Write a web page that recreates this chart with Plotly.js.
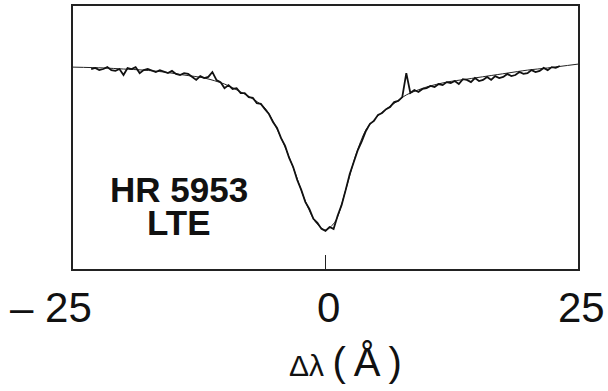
<!DOCTYPE html>
<html>
<head>
<meta charset="utf-8">
<script src="https://cdn.plot.ly/plotly-3.0.1.min.js"></script>
<style>html,body{margin:0;padding:0;background:#fff;}#chart{width:608px;height:391px;}</style>
</head>
<body>
<div id="chart"></div>
<script>
// Observed spectrum (relative flux vs wavelength offset in Angstrom)
const obsX = [-23.2,-22.8,-22.4,-22.0,-21.6,-21.2,-20.8,-20.4,-20.0,-19.6,-19.2,-18.8,-18.4,-18.0,-17.6,-17.2,-16.8,-16.4,-16.0,-15.6,-15.2,-14.8,-14.4,-14.0,-13.6,-13.2,-12.8,-12.4,-12.0,-11.6,-11.2,-10.8,-10.4,-10.0,-9.6,-9.2,-8.8,-8.4,-8.0,-7.6,-7.2,-6.8,-6.4,-6.0,-5.6,-5.2,-4.8,-4.4,-4.0,-3.6,-3.2,-2.8,-2.4,-2.0,-1.6,-1.2,-0.8,-0.4,0.0,0.4,0.8,1.2,1.6,2.0,2.4,2.8,3.2,3.6,4.0,4.4,4.8,5.2,5.6,6.0,6.4,6.8,7.2,7.6,8.0,8.4,8.8,9.2,9.6,10.0,10.4,10.8,11.2,11.6,12.0,12.4,12.8,13.2,13.6,14.0,14.4,14.8,15.2,15.6,16.0,16.4,16.8,17.2,17.6,18.0,18.4,18.8,19.2,19.6,20.0,20.4,20.8,21.2,21.6,22.0,22.4,22.8,23.2];
const obsFlux = [0.989,0.993,0.985,0.989,0.996,0.985,0.982,0.989,0.967,0.993,0.989,0.996,0.974,0.985,0.989,0.982,0.978,0.985,0.978,0.974,0.982,0.971,0.967,0.974,0.971,0.960,0.949,0.963,0.956,0.960,0.978,0.949,0.941,0.919,0.930,0.916,0.919,0.901,0.901,0.886,0.883,0.864,0.861,0.842,0.824,0.795,0.773,0.736,0.707,0.663,0.630,0.582,0.546,0.502,0.476,0.440,0.425,0.403,0.396,0.410,0.403,0.451,0.491,0.546,0.604,0.648,0.692,0.725,0.762,0.788,0.799,0.821,0.828,0.842,0.850,0.868,0.872,0.886,0.974,0.901,0.912,0.905,0.916,0.919,0.927,0.923,0.934,0.930,0.941,0.938,0.945,0.934,0.952,0.949,0.941,0.956,0.945,0.949,0.960,0.949,0.963,0.956,0.960,0.971,0.963,0.967,0.978,0.971,0.974,0.985,0.978,0.982,0.993,0.985,0.996,0.993,1.000];
// LTE model profile
const fitX = [-25,-22,-20,-18,-16,-14,-12,-10,-8,-7,-6,-5,-4,-3,-2,-1,0,1,2,3,4,5,6,7,8,10,12,14,16,18,20,22,25];
const fitFlux = [0.996,0.993,0.989,0.985,0.978,0.967,0.956,0.934,0.897,0.875,0.846,0.784,0.703,0.608,0.505,0.429,0.399,0.432,0.546,0.674,0.766,0.810,0.842,0.868,0.894,0.923,0.941,0.952,0.963,0.974,0.985,0.993,1.007];
const tickVals = [-25, 0, 25];
const tickLabels = ["\u2013 25", "0", "25"];
const xTitle = "\u0394\u03bb <span style='font-size:40px'>(\u2009\u00c5\u2009)</span>";
const starLabel = ["HR 5953", "LTE"];

const traces = [
  {x: fitX, y: fitFlux, type: 'scatter', mode: 'lines', line: {color: '#222', width: 1, shape: 'spline', smoothing: 0.8}, hoverinfo: 'skip'},
  {x: obsX, y: obsFlux, type: 'scatter', mode: 'lines', line: {color: '#111', width: 1.8}, hoverinfo: 'skip'}
];

const font = "'Liberation Sans', Arial, Helvetica, sans-serif";
const annotations = [
  {xref: 'x', yref: 'paper', x: tickVals[0], y: -0.148, xshift: -22, text: tickLabels[0], showarrow: false, xanchor: 'center', yanchor: 'middle', font: {family: font, size: 42, color: '#111'}},
  {xref: 'x', yref: 'paper', x: tickVals[1], y: -0.148, xshift: 3, text: tickLabels[1], showarrow: false, xanchor: 'center', yanchor: 'middle', font: {family: font, size: 42, color: '#111'}},
  {xref: 'x', yref: 'paper', x: tickVals[2], y: -0.148, xshift: 3, text: tickLabels[2], showarrow: false, xanchor: 'center', yanchor: 'middle', font: {family: font, size: 42, color: '#111'}},
  {xref: 'paper', yref: 'paper', x: 0.54, y: -0.354, text: xTitle, showarrow: false, xanchor: 'center', yanchor: 'middle', font: {family: font, size: 30, color: '#111'}},
  {xref: 'paper', yref: 'paper', x: 0.21, y: 0.302, text: '<b>' + starLabel[0] + '</b>', showarrow: false, xanchor: 'center', yanchor: 'middle', font: {family: font, size: 35, color: '#111'}},
  {xref: 'paper', yref: 'paper', x: 0.21, y: 0.177, text: '<b>' + starLabel[1] + '</b>', showarrow: false, xanchor: 'center', yanchor: 'middle', font: {family: font, size: 35, color: '#111'}}
];

const layout = {
  width: 608, height: 391,
  margin: {l: 73, r: 30, t: 6, b: 122},
  paper_bgcolor: '#fff', plot_bgcolor: '#fff',
  showlegend: false,
  xaxis: {range: [-25, 25], showgrid: false, zeroline: false, showline: true, mirror: true, linecolor: '#222', linewidth: 2,
          tickmode: 'array', tickvals: [0], ticks: 'inside', ticklen: 14, tickwidth: 1.2, tickcolor: '#222', showticklabels: false},
  yaxis: {range: [0.256, 1.220], showgrid: false, zeroline: false, showline: true, mirror: true, linecolor: '#222', linewidth: 2,
          ticks: '', showticklabels: false},
  annotations: annotations
};

Plotly.newPlot('chart', traces, layout, {staticPlot: true, displayModeBar: false});
</script>
</body>
</html>
